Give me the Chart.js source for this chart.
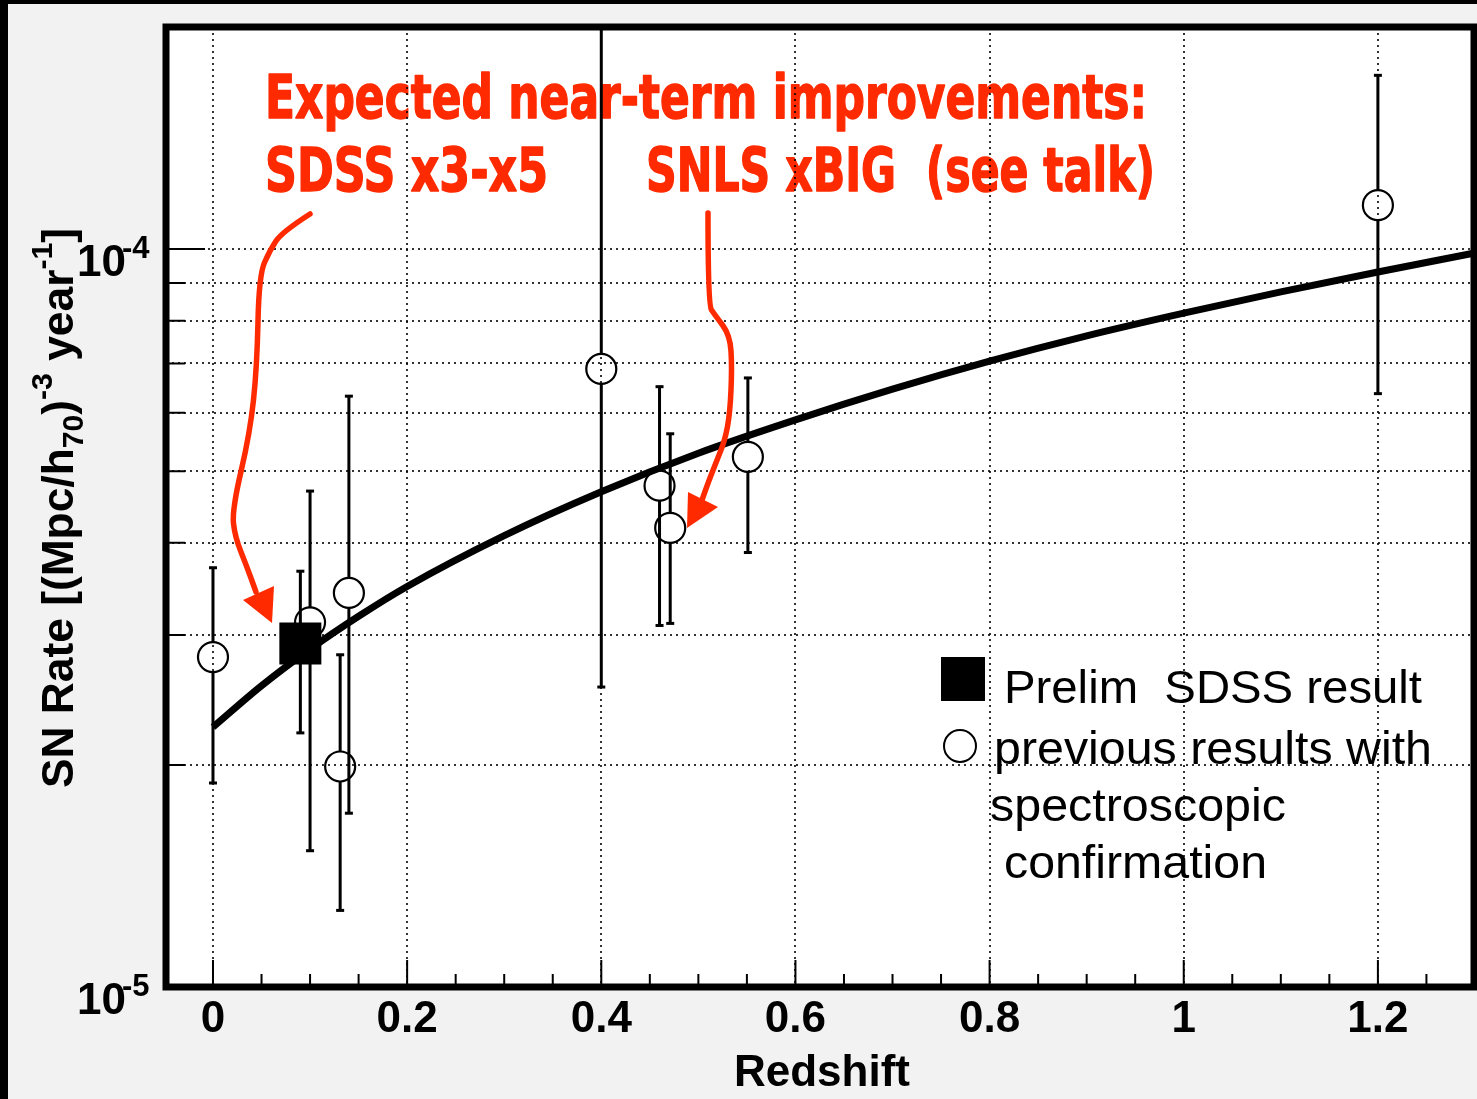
<!DOCTYPE html>
<html>
<head>
<meta charset="utf-8">
<script src="https://cdn.jsdelivr.net/npm/chart.js@4.4.0/dist/chart.umd.min.js"></script>
<style>
  html, body { margin: 0; padding: 0; background: #f2f2f2; overflow: hidden; }
  #wrap { width: 1477px; height: 1099px; }
</style>
</head>
<body>
<div id="wrap"><canvas id="rateChart" width="1477" height="1099"></canvas></div>
<script>
// previous results (open circles)
const prevZ    = [0.0, 0.10, 0.131, 0.14, 0.40, 0.460, 0.471, 0.551, 1.20];
const prevRate = [2.80e-5, 3.12e-5, 1.99e-5, 3.42e-5, 6.88e-5, 4.78e-5, 4.19e-5, 5.23e-5, 1.147e-4];
const prevLow  = [1.89e-5, 1.53e-5, 1.27e-5, 1.72e-5, 2.55e-5, 3.09e-5, 3.11e-5, 3.88e-5, 6.37e-5];
const prevHigh = [3.70e-5, 4.70e-5, 2.82e-5, 6.32e-5, 2.5e-4, 6.51e-5, 5.62e-5, 6.69e-5, 1.72e-4];

// preliminary SDSS result (filled square)
const sdssZ    = [0.09];
const sdssRate = [2.92e-5];
const sdssLow  = [2.21e-5];
const sdssHigh = [3.66e-5];

// model curve
const modelZ    = [0, 0.05, 0.1, 0.15, 0.2, 0.3, 0.4, 0.5, 0.6, 0.7, 0.8, 0.9, 1.0, 1.1, 1.2, 1.3];
const modelRate = [2.25e-5, 2.56e-5, 2.87e-5, 3.18e-5, 3.49e-5, 4.09e-5, 4.69e-5, 5.29e-5, 5.87e-5,
                   6.46e-5, 7.05e-5, 7.63e-5, 8.19e-5, 8.75e-5, 9.31e-5, 9.88e-5];

// axis ticks
const xMajor = [0, 0.2, 0.4, 0.6, 0.8, 1.0, 1.2];
const xLabels = ['0', '0.2', '0.4', '0.6', '0.8', '1', '1.2'];
const xMinor = [0.05, 0.1, 0.15, 0.25, 0.3, 0.35, 0.45, 0.5, 0.55, 0.65, 0.7, 0.75,
                0.85, 0.9, 0.95, 1.05, 1.1, 1.15, 1.25];
const yGrid = [2e-5, 3e-5, 4e-5, 5e-5, 6e-5, 7e-5, 8e-5, 9e-5, 1e-4];
const yDecades = [[1e-4, '-4'], [1e-5, '-5']];

const RED = '#ff2a00';
const SANS = '"Liberation Sans", Arial, Helvetica, sans-serif';

function toPoints(xs, ys) {
  return xs.map((x, i) => ({ x: x, y: ys[i] }));
}

// draw a string stretched to a given width (optional outline for extra weight)
function fitText(ctx, text, x, y, w, font, color, outline) {
  ctx.font = font;
  const m = ctx.measureText(text).width;
  ctx.save();
  ctx.translate(x, y);
  ctx.scale(w / m, 1);
  ctx.fillStyle = color;
  ctx.textAlign = 'left';
  ctx.textBaseline = 'alphabetic';
  ctx.fillText(text, 0, 0);
  if (outline) {
    ctx.strokeStyle = color;
    ctx.lineWidth = outline;
    ctx.lineJoin = 'round';
    ctx.strokeText(text, 0, 0);
  }
  ctx.restore();
}

function smoothPath(ctx, pts) {
  ctx.beginPath();
  ctx.moveTo(pts[0][0], pts[0][1]);
  for (let i = 1; i < pts.length - 1; i++) {
    const mx = (pts[i][0] + pts[i + 1][0]) / 2;
    const my = (pts[i][1] + pts[i + 1][1]) / 2;
    ctx.quadraticCurveTo(pts[i][0], pts[i][1], mx, my);
  }
  const last = pts[pts.length - 1];
  ctx.lineTo(last[0], last[1]);
}

function drawArrow(ctx, pts, head) {
  ctx.save();
  ctx.strokeStyle = RED;
  ctx.fillStyle = RED;
  ctx.lineWidth = 5.5;
  ctx.lineJoin = 'round';
  ctx.lineCap = 'round';
  smoothPath(ctx, pts);
  ctx.stroke();
  ctx.beginPath();
  ctx.moveTo(head[0][0], head[0][1]);
  ctx.lineTo(head[1][0], head[1][1]);
  ctx.lineTo(head[2][0], head[2][1]);
  ctx.closePath();
  ctx.fill();
  ctx.restore();
}

const decorPlugin = {
  id: 'decor',
  beforeDraw(chart) {
    const ctx = chart.ctx;
    const a = chart.chartArea;
    ctx.save();
    ctx.fillStyle = '#000';
    ctx.fillRect(0, 0, chart.width, chart.height);
    ctx.fillStyle = '#f2f2f2';
    ctx.fillRect(8, 4, chart.width - 8, chart.height - 4);
    ctx.fillStyle = '#fff';
    ctx.fillRect(a.left, a.top, a.right - a.left, a.bottom - a.top);
    ctx.restore();

    // red annotation text (sits under grid and data)
    const f = 'bold 61px "DejaVu Sans Condensed", "DejaVu Sans", sans-serif';
    fitText(ctx, 'Expected near-term improvements:', 265, 118, 882, f, RED, 1.4);
    fitText(ctx, 'SDSS x3-x5', 265, 191, 283, f, RED, 1.4);
    fitText(ctx, 'SNLS xBIG  (see talk)', 646, 191, 509, f, RED, 1.4);
  },
  beforeDatasetsDraw(chart) {
    const ctx = chart.ctx;
    const xs = chart.scales.x, ys = chart.scales.y;
    const a = chart.chartArea;
    ctx.save();
    ctx.beginPath();
    ctx.rect(a.left, a.top, a.right - a.left, a.bottom - a.top);
    ctx.clip();
    ctx.strokeStyle = '#000';
    ctx.lineWidth = 3;
    const bar = (z, lo, hi, skip, mid) => {
      const px = xs.getPixelForValue(z);
      const pLo = ys.getPixelForValue(lo);
      const pHi = ys.getPixelForValue(hi);
      const pm = ys.getPixelForValue(mid);
      ctx.beginPath();
      if (skip > 0) {
        if (pLo > pm + skip) { ctx.moveTo(px, pLo); ctx.lineTo(px, pm + skip); }
        if (pHi < pm - skip) { ctx.moveTo(px, pm - skip); ctx.lineTo(px, pHi); }
      } else {
        ctx.moveTo(px, pLo); ctx.lineTo(px, pHi);
      }
      ctx.stroke();
      ctx.fillStyle = '#000';
      ctx.fillRect(px - 4, pLo - 1.5, 8, 3);
      ctx.fillRect(px - 4, pHi - 1.5, 8, 3);
    };
    prevZ.forEach((z, i) => bar(z, prevLow[i], prevHigh[i], 15, prevRate[i]));
    sdssZ.forEach((z, i) => bar(z, sdssLow[i], sdssHigh[i], 0, sdssRate[i]));
    ctx.restore();
  },
  afterDatasetsDraw(chart) {
    const ctx = chart.ctx;
    drawArrow(ctx,
      [[310, 214], [282, 232], [270, 250], [259, 275], [257, 367], [250, 433], [232, 510],
       [235, 537], [247, 567], [256, 592]],
      [[243, 600], [274, 586], [272, 623]]);
    drawArrow(ctx,
      [[708, 213], [708, 305], [715, 315], [730, 335], [732, 367], [730, 413], [725, 440],
       [717, 460], [708, 483], [702, 500]],
      [[688, 492], [718, 507], [687, 528]]);
  },
  afterDraw(chart) {
    const ctx = chart.ctx;
    const xs = chart.scales.x, ys = chart.scales.y;
    const a = chart.chartArea;
    ctx.save();

    // frame
    ctx.strokeStyle = '#000';
    ctx.lineWidth = 7;
    ctx.strokeRect(a.left, a.top, a.right - a.left, a.bottom - a.top);

    // tick marks
    ctx.lineWidth = 2;
    ctx.beginPath();
    xMajor.forEach(v => { const p = xs.getPixelForValue(v); ctx.moveTo(p, a.bottom); ctx.lineTo(p, a.bottom - 27); });
    xMinor.forEach(v => { const p = xs.getPixelForValue(v); ctx.moveTo(p, a.bottom); ctx.lineTo(p, a.bottom - 13); });
    yGrid.forEach(v => {
      const p = ys.getPixelForValue(v);
      ctx.moveTo(a.left, p);
      ctx.lineTo(a.left + (v === 1e-4 ? 39 : 19), p);
    });
    ctx.stroke();

    // x tick labels
    ctx.fillStyle = '#000';
    ctx.textBaseline = 'alphabetic';
    ctx.textAlign = 'center';
    ctx.font = 'bold 44px ' + SANS;
    xMajor.forEach((v, i) => ctx.fillText(xLabels[i], xs.getPixelForValue(v), 1032));

    // x title
    ctx.fillText('Redshift', 822, 1086);

    // y decade labels
    yDecades.forEach(([v, e]) => {
      const p = ys.getPixelForValue(v);
      ctx.textAlign = 'left';
      ctx.font = 'bold 44px ' + SANS;
      ctx.fillText('10', 77, p + 27);
      ctx.font = 'bold 31px ' + SANS;
      ctx.fillText(e, 122, p + 9);
    });

    // y title, rotated, with sub/superscripts
    const parts = [
      ['SN Rate [(Mpc/h', 44, 0],
      ['70', 30, 10],
      [')', 44, 0],
      ['-3', 30, -21],
      [' year', 44, 0],
      ['-1', 30, -21],
      [']', 44, 0]
    ];
    let total = 0;
    parts.forEach(p => { ctx.font = 'bold ' + p[1] + 'px ' + SANS; total += ctx.measureText(p[0]).width; });
    ctx.translate(73, 508);
    ctx.rotate(-Math.PI / 2);
    const sc = 560 / total;
    ctx.scale(sc, 1);
    let cx = -total / 2;
    parts.forEach(p => {
      ctx.font = 'bold ' + p[1] + 'px ' + SANS;
      ctx.fillText(p[0], cx, p[2]);
      cx += ctx.measureText(p[0]).width;
    });
    ctx.restore();

    // legend
    ctx.save();
    ctx.fillStyle = '#000';
    ctx.fillRect(941, 657, 44, 44);
    ctx.lineWidth = 2;
    ctx.strokeStyle = '#000';
    ctx.beginPath();
    ctx.arc(960, 746, 16, 0, Math.PI * 2);
    ctx.stroke();
    const lf = '47px ' + SANS;
    fitText(ctx, 'Prelim  SDSS result', 1004, 703, 418, lf, '#000');
    fitText(ctx, 'previous results with', 994, 764, 438, lf, '#000');
    fitText(ctx, 'spectroscopic', 990, 821, 296, lf, '#000');
    fitText(ctx, 'confirmation', 1004, 878, 263, lf, '#000');
    ctx.restore();
  }
};

new Chart(document.getElementById('rateChart'), {
  type: 'scatter',
  data: {
    datasets: [
      {
        label: 'Prelim SDSS result',
        data: toPoints(sdssZ, sdssRate),
        pointStyle: 'rect',
        pointRadius: 29.7,
        backgroundColor: '#000',
        borderColor: '#000',
        borderWidth: 0,
        order: 0
      },
      {
        label: 'previous results with spectroscopic confirmation',
        data: toPoints(prevZ, prevRate),
        pointStyle: 'circle',
        pointRadius: 15,
        borderWidth: 2.2,
        borderColor: '#000',
        backgroundColor: 'rgba(0,0,0,0)',
        order: 1
      },
      {
        type: 'line',
        label: 'model',
        data: toPoints(modelZ, modelRate),
        borderColor: '#000',
        borderWidth: 7,
        pointRadius: 0,
        fill: false,
        cubicInterpolationMode: 'monotone',
        order: 2
      }
    ]
  },
  options: {
    responsive: false,
    animation: false,
    events: [],
    layout: { autoPadding: false, padding: { left: 166, top: 27, right: 3, bottom: 112 } },
    plugins: { legend: { display: false }, tooltip: { enabled: false } },
    scales: {
      x: {
        type: 'linear',
        min: -0.0484,
        max: 1.299,
        afterBuildTicks: s => { s.ticks = xMajor.map(v => ({ value: v })); },
        ticks: { display: false },
        grid: { drawTicks: false, color: 'rgba(0,0,0,0.8)', lineWidth: 2 },
        border: { display: false, dash: [2, 4] }
      },
      y: {
        type: 'logarithmic',
        min: 1e-5,
        max: 2e-4,
        afterBuildTicks: s => { s.ticks = yGrid.map(v => ({ value: v })); },
        ticks: { display: false },
        grid: { drawTicks: false, color: 'rgba(0,0,0,0.8)', lineWidth: 2 },
        border: { display: false, dash: [2, 4] }
      }
    }
  },
  plugins: [decorPlugin]
});
</script>
</body>
</html>
